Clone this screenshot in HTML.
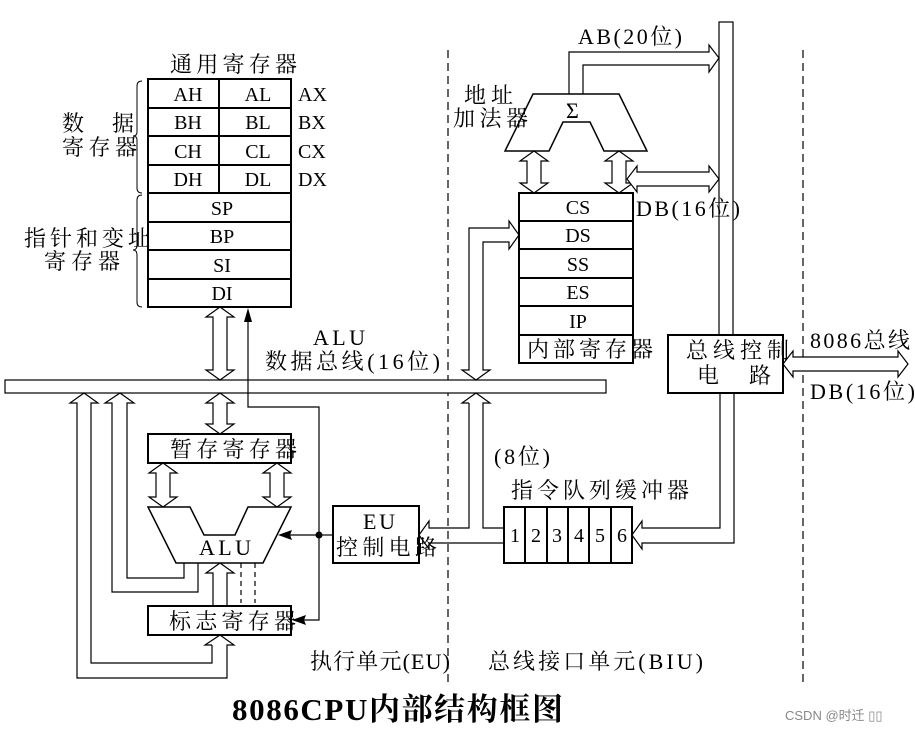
<!DOCTYPE html>
<html><head><meta charset="utf-8"><style>
html,body{margin:0;padding:0;background:#fff}
svg{display:block}
text{font-family:"Liberation Serif","Noto Serif CJK SC",serif;fill:#000}
</style></head><body>
<svg width="915" height="732" viewBox="0 0 915 732" xmlns="http://www.w3.org/2000/svg">
<g fill="none" stroke="#000" stroke-width="1.2">
<line x1="448" y1="50" x2="448" y2="685" stroke-dasharray="8,5"/>
<line x1="803" y1="50" x2="803" y2="685" stroke-dasharray="8,5"/>
<rect x="5" y="380" width="601" height="13" fill="#fff"/>
<rect x="719" y="22" width="14" height="313" fill="#fff"/>
</g>
<g fill="#fff" stroke="#000" stroke-width="1.2">
<polygon points="213,317 206,317 220,307 234,317 227,317 227,370 234,370 220,380 206,370 213,370"/>
<polygon points="213,403 206,403 220,393 234,403 227,403 227,424 234,424 220,434 206,424 213,424"/>
<polygon points="156,473 149,473 163,463 177,473 170,473 170,497 177,497 163,507 149,497 156,497"/>
<polygon points="270,473 263,473 277,463 291,473 284,473 284,497 291,497 277,507 263,497 270,497"/>
<polygon points="527,161 520,161 534,151 548,161 541,161 541,183 548,183 534,193 520,183 527,183"/>
<polygon points="612,161 605,161 619,151 633,161 626,161 626,183 633,183 619,193 605,183 612,183"/>
<polygon points="637,172 637,166 627,179 637,192 637,186 709,186 709,192 719,179 709,166 709,172"/>
<polygon points="793,357 793,351 783,364 793,377 793,371 898,371 898,377 908,364 898,351 898,357"/>
</g>
<g fill="none" stroke="#000" stroke-width="1.2">
<polyline points="213,606 213,573 206,573 220,563 234,573 227,573 227,606"/>
<path d="M184,563 V578 H127 V403 H134 L120,393 L105,403 H112 V592 H198 V563"/>
<path d="M212,645 V663 H91 V403 H98 L84,393 L70,403 H77 V678 H227 V645 H234 L220,635 L205,645 H212"/>
<path d="M469,370 V228 H509 V221 L519,235 L509,249 V242 H483 V370 H490 L476,380 L462,370 Z" fill="#fff"/>
<path d="M469,403 V528 H429 V521 L419,535 L429,549 V543 H504 M504,528 H483 V403 H490 L476,393 L462,403 H469"/>
<path d="M720,393 V528 H642 V521 L632,535 L642,549 V543 H734 V393"/>
<path d="M569,94 V52 H709 V45 L719,58 L709,72 V65 H583 V94"/>
<path d="M248,318 V407 H319 V620 H300"/>
<line x1="319" y1="535" x2="288" y2="535"/>
<line x1="319" y1="535" x2="333" y2="535"/>
<line x1="241" y1="563" x2="241" y2="603" stroke-dasharray="5,4"/>
<line x1="255" y1="563" x2="255" y2="603" stroke-dasharray="5,4"/>
</g>
<g fill="#000" stroke="none">
<polygon points="248,308 244,322 252,322"/>
<polygon points="278,535 292,530 290,535 292,540"/>
<polygon points="292,620 306,615 304,620 306,625"/>
<circle cx="319" cy="535" r="3.5"/>
</g>
<g fill="#fff" stroke="#000" stroke-width="2">
<rect x="148" y="79" width="143" height="228"/>
<rect x="148" y="434" width="143" height="29"/>
<polygon points="148,507 190,507 204,535 235,535 248,507 291,507 263,563 176,563" stroke-width="1.5"/>
<rect x="148" y="606" width="143" height="29"/>
<rect x="333" y="506" width="86" height="57"/>
<rect x="504" y="507" width="128" height="56"/>
<rect x="519" y="193" width="114" height="170"/>
<rect x="668" y="335" width="115" height="58"/>
<polygon points="533,94 619,94 647,151 604,151 590,122 563,122 549,151 505,151" stroke-width="1.5"/>
</g>
<g stroke="#000" stroke-width="2">
<line x1="148" y1="108" x2="291" y2="108"/><line x1="148" y1="136" x2="291" y2="136"/>
<line x1="148" y1="165" x2="291" y2="165"/><line x1="148" y1="193" x2="291" y2="193"/>
<line x1="148" y1="222" x2="291" y2="222"/><line x1="148" y1="250" x2="291" y2="250"/>
<line x1="148" y1="279" x2="291" y2="279"/><line x1="219" y1="79" x2="219" y2="193"/>
<line x1="519" y1="221" x2="633" y2="221"/><line x1="519" y1="249" x2="633" y2="249"/>
<line x1="519" y1="278" x2="633" y2="278"/><line x1="519" y1="306" x2="633" y2="306"/>
<line x1="519" y1="335" x2="633" y2="335"/>
<line x1="525" y1="507" x2="525" y2="563"/><line x1="547" y1="507" x2="547" y2="563"/>
<line x1="568" y1="507" x2="568" y2="563"/><line x1="589" y1="507" x2="589" y2="563"/>
<line x1="611" y1="507" x2="611" y2="563"/>
</g>
<g fill="none" stroke="#000" stroke-width="1">
<path d="M142,81 Q137,81 137,86 V132 Q137,136 133,136 Q137,136 137,140 V188 Q137,193 142,193"/>
<path d="M142,195 Q137,195 137,200 V245 Q137,250 133,250 Q137,250 137,255 V302 Q137,307 142,307"/>
</g>
<g font-size="20" text-anchor="middle">
<text x="188" y="101">AH</text><text x="258" y="101">AL</text>
<text x="188" y="129">BH</text><text x="258" y="129">BL</text>
<text x="188" y="158">CH</text><text x="258" y="158">CL</text>
<text x="188" y="186">DH</text><text x="258" y="186">DL</text>
<text x="222" y="215">SP</text><text x="222" y="243">BP</text>
<text x="222" y="272">SI</text><text x="222" y="300">DI</text>
<text x="578" y="214">CS</text><text x="578" y="242">DS</text>
<text x="578" y="271">SS</text><text x="578" y="299">ES</text>
<text x="578" y="328">IP</text>
<text x="515" y="542">1</text><text x="536" y="542">2</text><text x="557" y="542">3</text>
<text x="579" y="542">4</text><text x="600" y="542">5</text><text x="622" y="542">6</text>
</g>
<g font-size="20">
<text x="298" y="101">AX</text><text x="298" y="129">BX</text>
<text x="298" y="158">CX</text><text x="298" y="186">DX</text>
</g>
<g font-size="22">
<text x="170" y="72" textLength="127" lengthAdjust="spacing">通用寄存器</text>
<text x="62" y="131" textLength="72" lengthAdjust="spacing">数　据</text>
<text x="62" y="155" textLength="75" lengthAdjust="spacing">寄存器</text>
<text x="24" y="246" textLength="126" lengthAdjust="spacing">指针和变址</text>
<text x="44" y="269" textLength="76" lengthAdjust="spacing">寄存器</text>
<text x="313" y="345" textLength="52" lengthAdjust="spacing">ALU</text>
<text x="265" y="369" textLength="175" lengthAdjust="spacing">数据总线(16位)</text>
<text x="170" y="457" textLength="127" lengthAdjust="spacing">暂存寄存器</text>
<text x="199" y="555" textLength="52" lengthAdjust="spacing">ALU</text>
<text x="169" y="629" textLength="127" lengthAdjust="spacing">标志寄存器</text>
<text x="363" y="529" textLength="32" lengthAdjust="spacing">EU</text>
<text x="336" y="555" textLength="101" lengthAdjust="spacing">控制电路</text>
<text x="578" y="44" textLength="104" lengthAdjust="spacing">AB(20位)</text>
<text x="464" y="103" textLength="49" lengthAdjust="spacing">地址</text>
<text x="453" y="126" textLength="75" lengthAdjust="spacing">加法器</text>
<text x="566" y="118">Σ</text>
<text x="636" y="216" textLength="104" lengthAdjust="spacing">DB(16位)</text>
<text x="527" y="357" textLength="126" lengthAdjust="spacing">内部寄存器</text>
<text x="686" y="358" textLength="103" lengthAdjust="spacing">总线控制</text>
<text x="697" y="383" textLength="74" lengthAdjust="spacing">电　路</text>
<text x="810" y="348" textLength="100" lengthAdjust="spacing">8086总线</text>
<text x="810" y="399" textLength="105" lengthAdjust="spacing">DB(16位)</text>
<text x="494" y="464" textLength="56" lengthAdjust="spacing">(8位)</text>
<text x="511" y="498" textLength="178" lengthAdjust="spacing">指令队列缓冲器</text>
<text x="310" y="669" textLength="140" lengthAdjust="spacing">执行单元(EU)</text>
<text x="488" y="669" textLength="215" lengthAdjust="spacing">总线接口单元(BIU)</text>
</g>
<text x="232" y="720" font-size="31" font-weight="bold" textLength="331" lengthAdjust="spacing">8086CPU内部结构框图</text>
<text x="785" y="720" font-size="13" style="fill:#888;font-family:'Liberation Sans','Noto Sans CJK SC',sans-serif">CSDN @时迁 ▯▯</text>
</svg>
</body></html>
